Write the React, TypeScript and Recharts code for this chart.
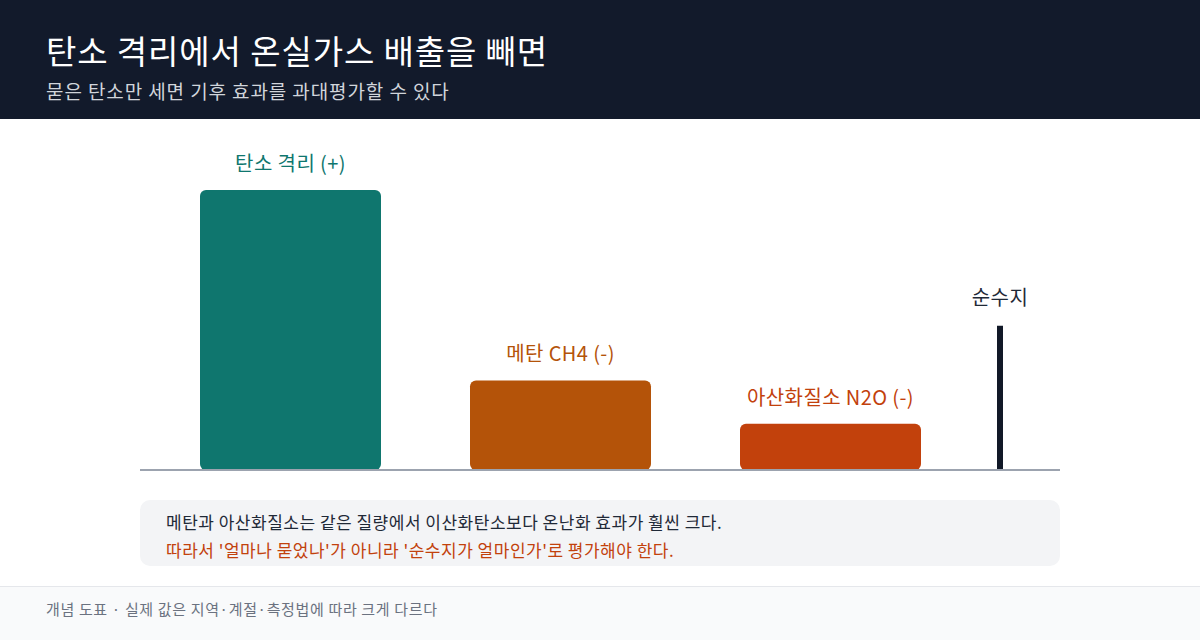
import { BarChart, Bar, XAxis, YAxis, Cell } from "recharts";

// conceptual magnitudes (sequestration = 100)
const gasNames = ["탄소 격리 (+)", "메탄 CH4 (-)", "아산화질소 N2O (-)"];
const gasValues = [100, 32, 16.5];
const gasColors = ["#0f766e", "#b45309", "#c2410c"];

const netName = "순수지";
const netValue = 51.5;

const gasData = gasNames.map((name, i) => ({ name, value: gasValues[i] }));
const netData = [{ name: netName, value: netValue }];

const FONT = "'Noto Sans CJK KR', 'Noto Sans', sans-serif";

function GasLabel(props: any) {
  const { x, y, width, index } = props;
  return (
    <text
      x={x + width / 2}
      y={y - 19}
      textAnchor="middle"
      fontSize={20}
      fontFamily={FONT}
      letterSpacing={0.4}
      fill={gasColors[index]}
    >
      {gasNames[index]}
    </text>
  );
}

function NetLabel(props: any) {
  const { x, y, width } = props;
  return (
    <text
      x={x + width / 2}
      y={y - 21}
      textAnchor="middle"
      fontSize={20}
      fontFamily={FONT}
      letterSpacing={0.4}
      fill="#1f2937"
    >
      {netName}
    </text>
  );
}

const chartMargin = { top: 70, right: 140, bottom: 10, left: 140 };

export default function App() {
  return (
    <div
      style={{
        position: "absolute",
        left: 0,
        top: 0,
        width: 1200,
        height: 640,
        background: "#ffffff",
        fontFamily: FONT,
        overflow: "hidden",
      }}
    >
      <div
        style={{
          position: "absolute",
          left: 0,
          top: 0,
          width: 1200,
          height: 119,
          background: "#121a2b",
        }}
      >
        <div
          style={{
            position: "absolute",
            left: 46,
            top: 28,
            fontSize: 33,
            color: "#ffffff",
            fontWeight: 400,
            letterSpacing: 0.9,
            lineHeight: "44px",
          }}
        >
          탄소 격리에서 온실가스 배출을 빼면
        </div>
        <div
          style={{
            position: "absolute",
            left: 46,
            top: 77,
            fontSize: 19,
            color: "#d1d5db",
            letterSpacing: 0.9,
            lineHeight: "28px",
          }}
        >
          묻은 탄소만 세면 기후 효과를 과대평가할 수 있다
        </div>
      </div>

      {/* gas bars */}
      <div style={{ position: "absolute", left: 0, top: 120 }}>
        <BarChart width={1200} height={360} data={gasData} margin={chartMargin}>
          <XAxis dataKey="name" hide padding={{ left: 15, right: 95 }} />
          <YAxis hide domain={[0, 100]} />
          <Bar
            dataKey="value"
            barSize={181}
            radius={[6, 6, 6, 6]}
            isAnimationActive={false}
            label={<GasLabel />}
          >
            {gasData.map((d, i) => (
              <Cell key={d.name} fill={gasColors[i]} />
            ))}
          </Bar>
        </BarChart>
      </div>

      {/* net marker */}
      <div style={{ position: "absolute", left: 0, top: 120 }}>
        <BarChart width={1200} height={360} data={netData} margin={chartMargin}>
          <XAxis dataKey="name" hide padding={{ left: 800, right: 0 }} />
          <YAxis hide domain={[0, 100]} />
          <Bar
            dataKey="value"
            barSize={6}
            fill="#111827"
            isAnimationActive={false}
            label={<NetLabel />}
          />
        </BarChart>
      </div>

      {/* baseline */}
      <div
        style={{
          position: "absolute",
          left: 140,
          top: 469,
          width: 920,
          height: 2,
          background: "#9ca3af",
        }}
      />

      {/* note box */}
      <div
        style={{
          position: "absolute",
          left: 140,
          top: 500,
          width: 920,
          height: 66,
          background: "#f3f4f6",
          borderRadius: 10,
        }}
      >
        <div
          style={{
            position: "absolute",
            left: 26,
            top: 10,
            fontSize: 17,
            color: "#1f2937",
            letterSpacing: 0.5,
            lineHeight: "24px",
          }}
        >
          메탄과 아산화질소는 같은 질량에서 이산화탄소보다 온난화 효과가 훨씬 크다.
        </div>
        <div
          style={{
            position: "absolute",
            left: 26,
            top: 38,
            fontSize: 17,
            color: "#c2410c",
            letterSpacing: 0.5,
            lineHeight: "24px",
          }}
        >
          따라서 '얼마나 묻었나'가 아니라 '순수지가 얼마인가'로 평가해야 한다.
        </div>
      </div>

      {/* footer */}
      <div
        style={{
          position: "absolute",
          left: 0,
          top: 586,
          width: 1200,
          height: 54,
          background: "#f9fafb",
          borderTop: "1px solid #e5e7eb",
        }}
      >
        <div
          style={{
            position: "absolute",
            left: 46,
            top: 11,
            fontSize: 15,
            color: "#6b7280",
            letterSpacing: 0.65,
            lineHeight: "22px",
          }}
        >
          개념 도표 · 실제 값은 지역·계절·측정법에 따라 크게 다르다
        </div>
      </div>
    </div>
  );
}
